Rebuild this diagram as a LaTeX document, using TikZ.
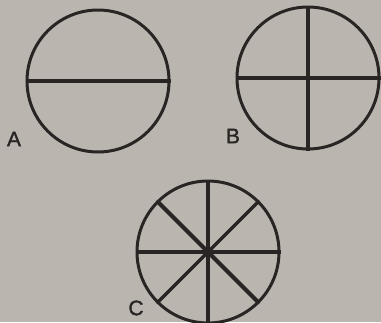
\documentclass[tikz,border=0pt]{standalone}
\usepackage{fontspec}
\setmainfont{Liberation Sans}[FakeBold=1.5]
\definecolor{paper}{RGB}{186,182,175}
\definecolor{ink}{RGB}{40,37,36}
\begin{document}
\begin{tikzpicture}[x=1pt,y=-1pt,
  disc/.style={draw=ink,line width=3pt,circle,minimum size=142pt,inner sep=0pt},
  spoke/.style={draw=ink,line width=3.4pt},
  heavy/.style={draw=ink,line width=4.2pt},
  lab/.style={text=ink,font=\fontsize{21}{21}\selectfont,inner sep=0pt}]
\fill[paper] (0,0) rectangle (381,322);
\useasboundingbox (0,0) rectangle (381,322);
\node[disc] (A) at (98,81) {};
\draw[heavy] (A.west) -- (A.east);
\node[lab] (la) at (14,139) {A};
\node[disc] (B) at (308,78) {};
\draw[spoke] (B.west) -- (B.east);
\draw[spoke] (B.north) -- (B.south);
\node[lab] (lb) at (233,136) {B};
\node[disc] (C) at (208,252) {};
\draw[spoke] (C.west) -- (C.east);
\draw[spoke] (C.north) -- (C.south);
\draw[heavy] (C.north west) -- (C.south east);
\draw[spoke] (C.north east) -- (C.south west);
\node[lab] (lc) at (136,308) {C};
\end{tikzpicture}
\end{document}
